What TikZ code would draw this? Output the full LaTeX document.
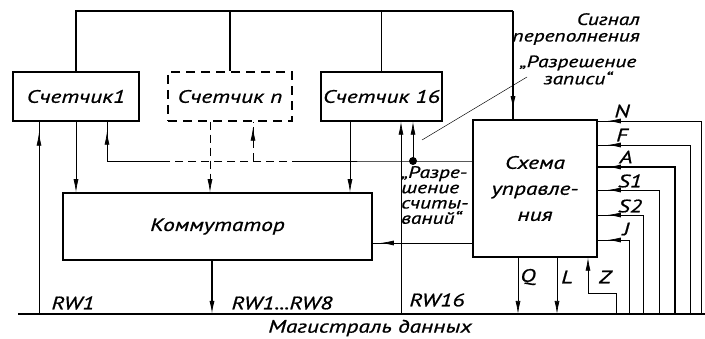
\documentclass[tikz,border=0pt]{standalone}
\usepackage{fontspec}
\setmainfont{PT Sans}[FakeStretch=1.3,FakeBold=0.8]
\usetikzlibrary{arrows.meta,decorations.markings,calc}
\begin{document}
\begin{tikzpicture}[x=1pt,y=-1pt,
  txt/.style={font=\fontsize{18}{20}\selectfont\itshape, inner sep=0pt},
  box/.style={draw, line width=1.5pt, inner sep=0pt, font=\fontsize{18}{20}\selectfont\itshape},
  ln/.style={line width=0.7pt},
  thk/.style={line width=1.3pt},
  dashpat/.style={dash pattern=on 8pt off 5pt},
  endarr/.style={-{Latex[length=13pt,width=5pt]}},
  tipat/.style={postaction={decorate},decoration={markings,mark=at position #1 with {\arrow{Latex[length=13pt,width=5pt]}}}}
]
\useasboundingbox (0,0) rectangle (705,339);

% blocks
\node[box,minimum width=126pt,minimum height=49pt] (c1) at (76,96.5) {Счетчик1};
\node[box,dashed,dash pattern=on 9pt off 6pt,minimum width=124pt,minimum height=49pt] (cn) at (230,96.5) {Счетчик n};
\node[box,minimum width=121pt,minimum height=49pt] (c16) at (381.5,96.5) {Счетчик 16};
\node[box,minimum width=309pt,minimum height=67pt] (kom) at (217.5,226.5) {Коммутатор};
\node[box,minimum width=124pt,minimum height=137pt,align=center,font=\fontsize{18}{26}\selectfont\itshape] (ctrl) at (535,188.5) {Схема\\управле-\\ния};

% helper coordinates
\coordinate (busL) at (18,314);
\coordinate (busR) at (705,314);
\coordinate (topR) at (513,11);
\coordinate (dot) at (413,161);
\coordinate (rdY) at (0,243);
\coordinate (zY) at (0,293);
\foreach \x in {39,107,163,210,253,300,350,401,212,518,557,588,616}{\coordinate (x\x) at (\x,0);}

% data bus
\draw[thk] (busL) -- (busR);

% top bus
\draw[thk] (c1.north) -- (c1.north |- topR) -- (topR);
\draw[thk,tipat=-10pt] (topR) -- (topR |- ctrl.north);
\draw[thk] (cn.north) -- (cn.north |- topR);
\draw[thk] (c16.north) -- (c16.north |- topR);

% counter 1
\draw[ln,tipat=-11pt] (x39 |- busL) -- (x39 |- c1.south);
\draw[ln,endarr] (c1.south) -- (c1.south |- kom.north);

% write enable line
\draw[ln] (ctrl.west |- dot) -- (dot) -- (x300 |- dot);
\draw[ln,dashpat] (x300 |- dot) -- (x163 |- dot);
\draw[ln,tipat=-10pt] (x163 |- dot) -- (x107 |- dot) -- (x107 |- c1.south);
\fill (dot) circle (4pt);
\draw[ln,endarr] (dot) -- (dot |- c16.south);
\draw[ln,dashpat,tipat=-6pt] (x253 |- dot) -- (x253 |- cn.south);

% counter n / 16 to commutator
\draw[ln,dashpat,endarr] (x210 |- cn.south) -- (x210 |- kom.north);
\draw[ln,endarr] (x350 |- c16.south) -- (x350 |- kom.north);
\draw[ln,endarr] (x401 |- busL) -- (x401 |- c16.south);

% commutator output
\draw[thk,endarr] (x212 |- kom.south) -- (x212 |- busL);

% read enable
\draw[ln,tipat=-8pt] (ctrl.west |- rdY) -- (kom.east |- rdY);

% control outputs
\draw[ln,endarr] (x518 |- ctrl.south) -- (x518 |- busL);
\draw[ln,endarr] (x557 |- ctrl.south) -- (x557 |- busL);
\draw[ln,endarr] (x616 |- busL) -- (x616 |- zY) -- (x588 |- zY) -- (x588 |- ctrl.south);

% control inputs
\foreach \nm/\yy/\xv/\w in {N/121/701/ln,F/145/690/ln,A/167/675/thk,S1/190/659/ln,S2/215/643/ln,J/240/629/ln}{
  \coordinate (in\nm) at (\xv,\yy);
  \draw[\w,tipat=-10pt] (in\nm |- busL) -- (in\nm) -- (ctrl.east |- in\nm);
}
\node[txt] (lN) at (622,111) {N};
\node[txt] (lF) at (622,135) {F};
\node[txt] (lA) at (626,157) {A};
\node[txt] (lS1) at (630,181) {S1};
\node[txt] (lS2) at (630,206) {S2};
\node[txt] (lJ) at (626,229) {J};

% labels
\node[txt] (rw1) at (73,303) {RW1};
\node[txt] (rw8) at (282,303) {RW1...RW8};
\node[txt] (rw16) at (437,300) {RW16};
\node[txt] (lQ) at (528,277) {Q};
\node[txt] (lL) at (567,277) {L};
\node[txt] (lZ) at (605,277) {Z};
\node[txt] (mag) at (370,328) {Магистраль данных};
\node[txt,anchor=north west,align=left,font=\fontsize{16.5}{15.3}\selectfont\itshape] (rs) at (401,166) {„Разре-\\шение\\считы-\\ваний“};
\node[txt,anchor=east,align=right,font=\fontsize{16.5}{16.5}\selectfont\itshape] (sig) at (640,29) {Сигнал\\переполнения};
\node[txt,align=center,font=\fontsize{16.5}{16}\selectfont\itshape] (rz) at (578,70) {„Разрешение\\записи“};
\coordinate (leadTop) at (527,77);
\coordinate (leadEnd) at (422,140);
\draw[line width=0.5pt] (leadTop) -- (leadEnd);
\end{tikzpicture}
\end{document}
